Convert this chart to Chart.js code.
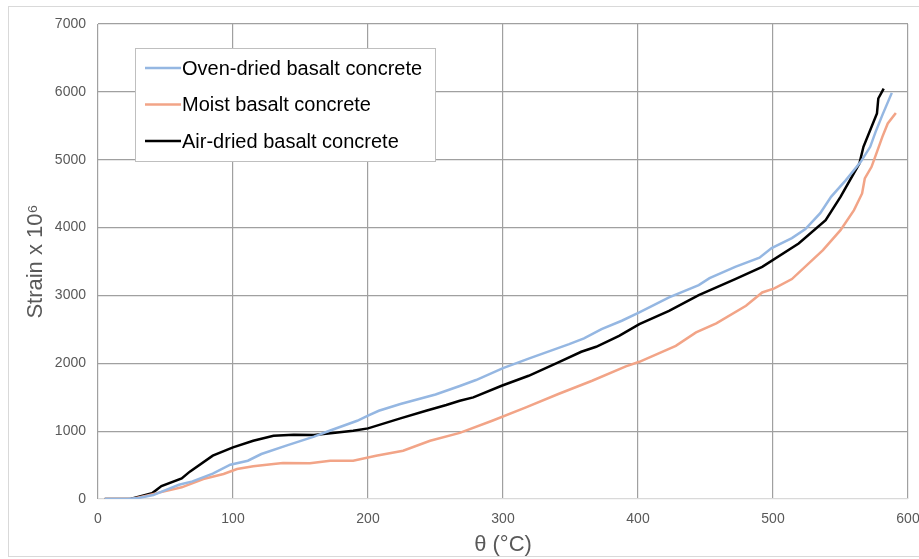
<!DOCTYPE html>
<html>
<head>
<meta charset="utf-8">
<script src="https://cdn.jsdelivr.net/npm/chart.js@4"></script>
<style>
  body { margin: 0; overflow: hidden; background: #fff; }
  canvas { display: block; }
</style>
</head>
<body>
<canvas id="strainChart" width="940" height="559"></canvas>
<script>
// temperature (°C) and strain x 10^6
const ovenTemp = [5, 22, 30, 41, 50, 60, 70, 85, 98, 111, 121, 140, 160, 172, 192, 200, 208, 224, 250, 268, 280, 300, 320, 349, 360, 373, 388, 401, 423, 445, 453, 472, 490, 499, 514, 524, 535, 543, 554, 565, 572, 576, 581, 588];
const ovenStrain = [0, 0, 15, 60, 130, 210, 260, 375, 505, 564, 663, 790, 920, 1010, 1153, 1230, 1300, 1400, 1540, 1665, 1753, 1930, 2077, 2283, 2367, 2504, 2627, 2750, 2971, 3152, 3255, 3422, 3555, 3697, 3845, 3977, 4213, 4453, 4699, 4969, 5190, 5411, 5657, 5985];

const moistTemp = [5, 25, 36, 46, 62, 78, 93, 103, 115, 130, 137, 157, 172, 189, 206, 226, 246, 268, 292, 317, 341, 366, 391, 401, 428, 443, 458, 480, 492, 501, 514, 537, 550, 560, 566, 568, 573, 577, 581, 585, 591];
const moistStrain = [0, 0, 49, 98, 172, 295, 368, 442, 481, 515, 530, 526, 564, 564, 638, 711, 859, 975, 1153, 1350, 1547, 1743, 1955, 2022, 2258, 2455, 2588, 2847, 3044, 3103, 3241, 3668, 3962, 4257, 4503, 4724, 4895, 5116, 5337, 5534, 5690];

const airTemp = [5, 24, 40, 47, 62, 68, 85, 100, 115, 130, 145, 160, 174, 189, 200, 224, 243, 258, 268, 278, 299, 319, 341, 358, 369, 386, 401, 423, 445, 472, 492, 519, 539, 550, 564, 567, 577, 578, 582];
const airStrain = [0, 0, 85, 190, 304, 403, 638, 761, 859, 933, 947, 943, 972, 1006, 1041, 1188, 1300, 1385, 1448, 1498, 1669, 1816, 2013, 2170, 2243, 2405, 2578, 2773, 3005, 3241, 3422, 3766, 4110, 4453, 4945, 5190, 5681, 5902, 6049];

const seriesNames = ['Oven-dried basalt concrete', 'Moist basalt concrete', 'Air-dried basalt concrete'];
const seriesColors = ['#95b7e2', '#f2a487', '#000000'];

const FONT = "'Liberation Sans', Arial, sans-serif";

function toPoints(xs, ys) {
    return xs.map((x, i) => ({ x: x, y: ys[i] }));
}

// white background + outer grey frame
const framePlugin = {
    id: 'frame',
    beforeDraw(chart) {
        const c = chart.ctx;
        c.save();
        c.fillStyle = '#fff';
        c.fillRect(0, 0, chart.width, chart.height);
        c.strokeStyle = '#d9d9d9';
        c.lineWidth = 1;
        c.strokeRect(8.5, 6.5, 1000, 550);
        c.restore();
    }
};

// legend box floating inside the plot, like the original
const boxLegend = {
    id: 'boxLegend',
    afterDraw(chart) {
        const c = chart.ctx;
        c.save();
        c.fillStyle = '#fff';
        c.fillRect(135, 48, 300, 113);
        c.strokeStyle = '#bfbfbf';
        c.lineWidth = 1;
        c.strokeRect(135.5, 48.5, 300, 113);
        c.font = '20px ' + FONT;
        c.textBaseline = 'middle';
        chart.data.datasets.forEach((ds, i) => {
            const y = 68 + i * 36.5;
            c.strokeStyle = ds.borderColor;
            c.lineWidth = 2.5;
            c.beginPath();
            c.moveTo(145, y);
            c.lineTo(181, y);
            c.stroke();
            c.fillStyle = '#000';
            c.fillText(ds.label, 182, y + 1);
        });
        c.restore();
    }
};

const ctx = document.getElementById('strainChart').getContext('2d');
const chart = new Chart(ctx, {
    type: 'line',
    data: {
        datasets: [
            { label: seriesNames[0], data: toPoints(ovenTemp, ovenStrain), borderColor: seriesColors[0] },
            { label: seriesNames[1], data: toPoints(moistTemp, moistStrain), borderColor: seriesColors[1] },
            { label: seriesNames[2], data: toPoints(airTemp, airStrain), borderColor: seriesColors[2] }
        ]
    },
    options: {
        responsive: false,
        animation: false,
        layout: { padding: { top: 24, right: 32, left: 0, bottom: 0 } },
        elements: {
            line: { borderWidth: 2.5, tension: 0, fill: false },
            point: { radius: 0, hoverRadius: 0 }
        },
        plugins: {
            legend: { display: false },
            tooltip: { enabled: false }
        },
        scales: {
            x: {
                type: 'linear',
                min: 0,
                max: 600,
                ticks: { stepSize: 100, color: '#595959', font: { family: FONT, size: 14 }, padding: 12, maxRotation: 0, callback: v => String(v) },
                grid: { color: '#a0a0a0', lineWidth: 1.2, drawTicks: false },
                border: { display: false },
                title: { display: true, text: 'θ (°C)', color: '#595959', font: { family: FONT, size: 22 }, padding: { top: 0, bottom: 1 } },
                afterFit: s => { s.height = 60; }
            },
            y: {
                min: 0,
                max: 7000,
                ticks: { stepSize: 1000, color: '#595959', font: { family: FONT, size: 14 }, padding: 12, callback: v => String(v) },
                grid: {
                    color: c => (c.tick && c.tick.value === 0) ? '#d9d9d9' : '#a0a0a0',
                    lineWidth: 1.2,
                    drawTicks: false
                },
                border: { display: false },
                title: { display: true, text: 'Strain x 10⁶', color: '#595959', font: { family: FONT, size: 22 }, padding: { top: 23, bottom: 0 } },
                afterFit: s => { s.width = 98; }
            }
        }
    },
    plugins: [framePlugin, boxLegend]
});
</script>
</body>
</html>
